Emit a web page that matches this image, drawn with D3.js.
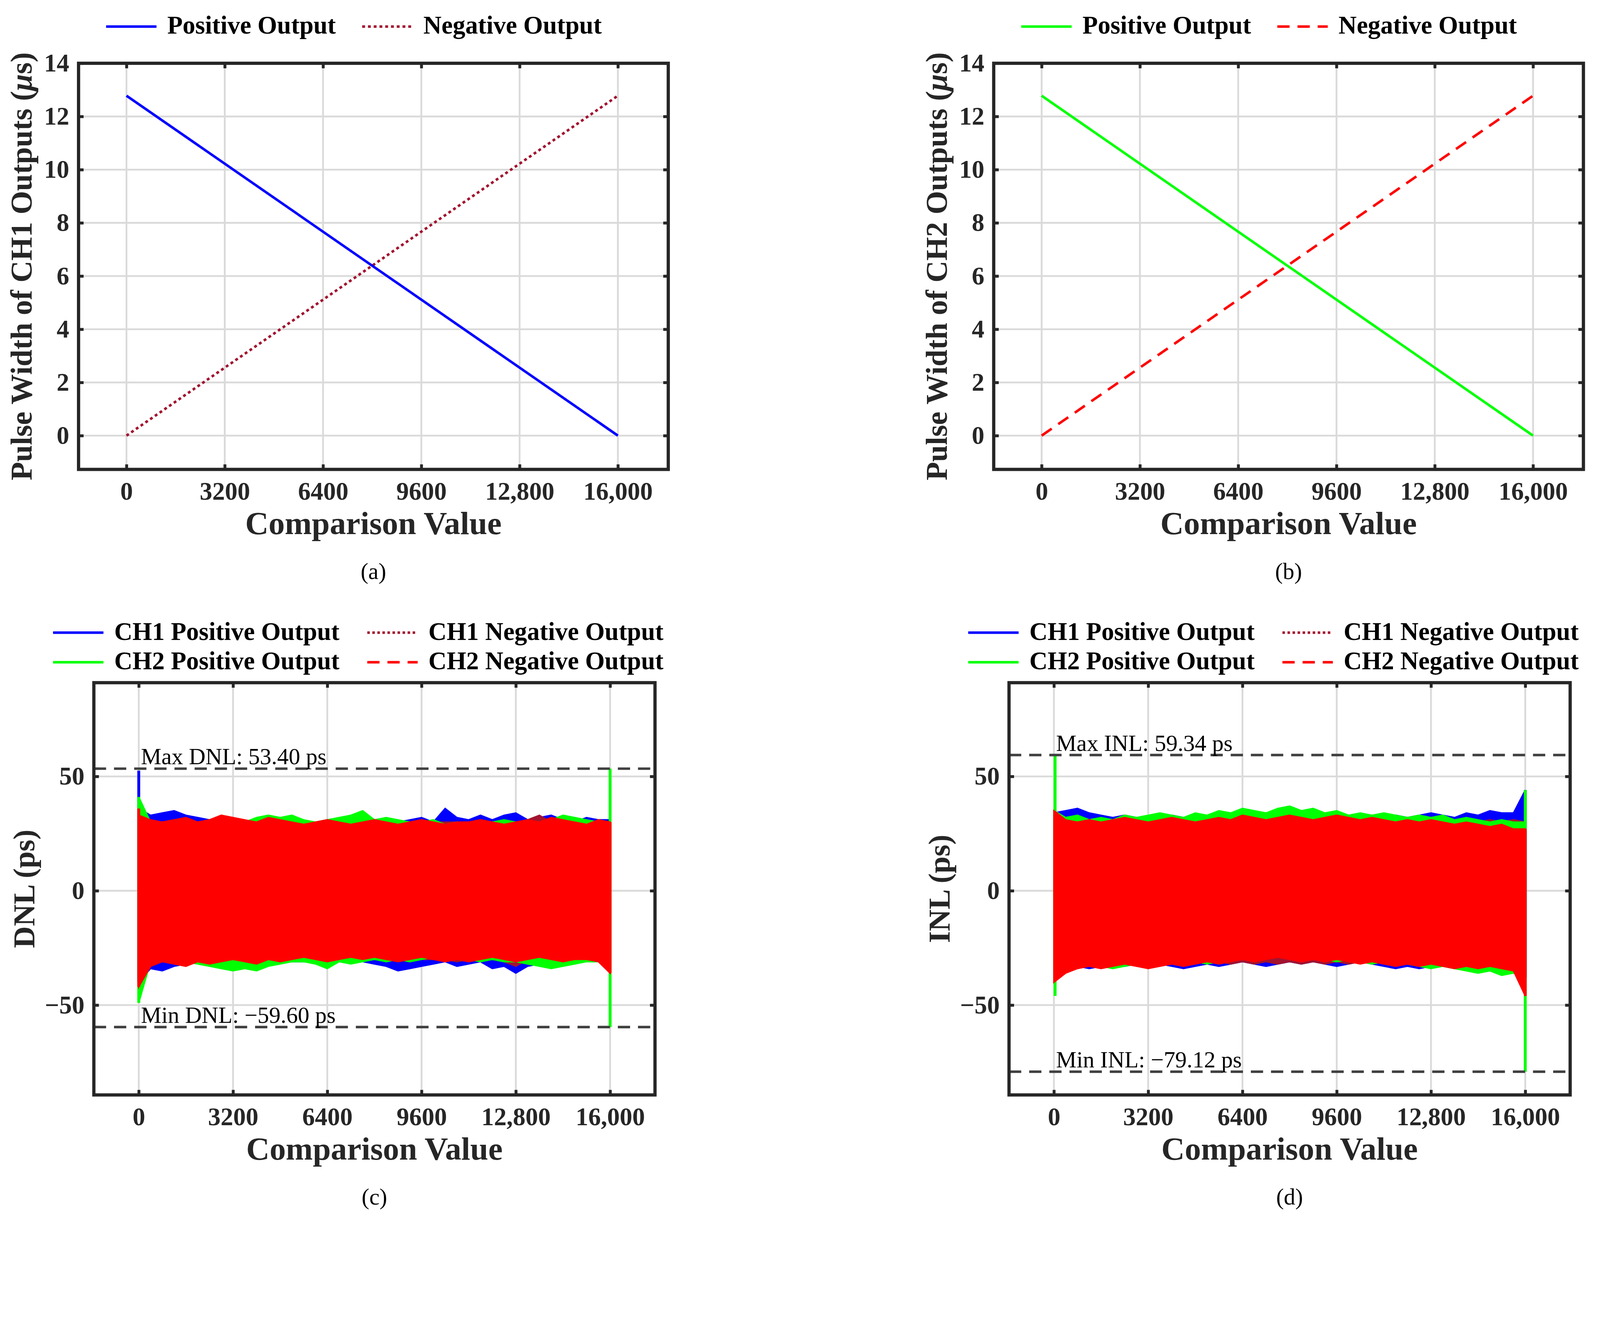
<!DOCTYPE html>
<html><head><meta charset="utf-8">
<script src="https://cdn.jsdelivr.net/npm/d3@7"></script>
<style>html,body{margin:0;padding:0;background:#fff;overflow:hidden}svg{display:block;width:100vw;height:100vh}</style>
</head><body>
<svg id="c" viewBox="0 0 4446 3399" preserveAspectRatio="xMinYMin meet"></svg>
<script>
// ---------- data ----------
const lineX = [0, 16000];
const ch1Pos = [12.78, 0];
const ch1Neg = [0, 12.78];
const ch2Pos = [12.78, 0];
const ch2Neg = [0, 12.78];
const xTicks = [0, 3200, 6400, 9600, 12800, 16000];
const xTickLabels = ["0", "3200", "6400", "9600", "12,800", "16,000"];
const yTicksTop = [0, 2, 4, 6, 8, 10, 12, 14];
const yTicksBottom = [-50, 0, 50];
const knots = [0,400,800,1200,1600,2000,2400,2800,3200,3600,4000,4400,4800,5200,5600,6000,6400,6800,7200,7600,8000,8400,8800,9200,9600,10000,10400,10800,11200,11600,12000,12400,12800,13200,13600,14000,14400,14800,15200,15600,16000];
// DNL envelopes (ps)
const dnlBlueHi = [36,33,34,35,33,32,31,30,31,30,30,30,31,30,30,29,30,31,30,30,30,31,30,31,32,30,36,32,31,33,31,33,34,31,32,33,31,30,32,31,31];
const dnlBlueLo = [-40,-34,-35,-33,-32,-31,-31,-31,-30,-31,-31,-30,-30,-31,-31,-31,-30,-31,-30,-31,-32,-33,-35,-34,-33,-32,-31,-33,-32,-31,-34,-33,-36,-33,-32,-31,-31,-32,-30,-31,-32];
const dnlDkHi = [31,30,30,31,30,30,31,30,30,30,30,31,30,30,30,30,31,30,30,30,31,30,30,30,31,30,30,30,30,31,30,30,30,31,33,30,30,30,30,30,30];
const dnlDkLo = [-34,-31,-30,-31,-30,-30,-31,-30,-30,-30,-31,-30,-30,-31,-30,-30,-30,-30,-31,-30,-30,-30,-30,-31,-30,-30,-30,-31,-30,-30,-30,-31,-33,-30,-30,-31,-30,-30,-30,-30,-33];
const dnlGreenHi = [41,30,30,30,29,30,29,30,31,30,32,33,32,33,31,30,31,32,33,35,31,32,31,30,30,31,29,30,29,30,30,31,30,30,30,31,33,32,31,30,30];
const dnlGreenLo = [-49,-31,-30,-30,-31,-32,-33,-34,-35,-34,-35,-33,-32,-31,-31,-32,-34,-31,-32,-31,-30,-31,-30,-31,-30,-29,-30,-29,-30,-31,-30,-31,-31,-32,-33,-34,-33,-32,-31,-31,-34];
const dnlRedHi = [33,31,30,31,32,30,31,33,32,31,30,32,31,30,29,30,31,30,29,30,31,30,29,30,31,30,29,30,30,31,30,29,30,31,30,32,31,30,29,31,30];
const dnlRedLo = [-42,-33,-31,-32,-33,-31,-32,-31,-30,-31,-32,-30,-31,-30,-29,-30,-31,-30,-29,-30,-29,-30,-31,-30,-29,-30,-31,-30,-31,-30,-29,-30,-31,-30,-29,-30,-31,-30,-30,-31,-36];
// INL envelopes (ps)
const inlBlueHi = [34,35,36,34,33,32,33,32,31,32,33,32,31,32,33,32,31,32,33,32,31,32,33,32,34,33,32,33,32,33,32,33,34,33,32,34,33,35,34,34,44];
const inlBlueLo = [-36,-34,-33,-34,-33,-32,-33,-32,-33,-32,-33,-34,-33,-32,-33,-32,-31,-32,-33,-32,-31,-32,-31,-32,-33,-32,-31,-32,-33,-34,-33,-34,-33,-32,-33,-34,-35,-33,-34,-33,-38];
const inlDkHi = [32,31,31,30,31,30,31,30,31,30,31,31,30,31,30,31,30,31,30,31,30,31,30,31,30,31,30,31,30,31,30,31,30,31,30,31,30,31,30,31,30];
const inlDkLo = [-34,-32,-31,-32,-31,-32,-31,-32,-31,-32,-31,-32,-31,-32,-31,-32,-31,-32,-31,-32,-31,-32,-31,-32,-31,-32,-31,-32,-31,-32,-31,-32,-31,-32,-31,-32,-31,-32,-31,-32,-40];
const inlGreenHi = [35,32,33,31,32,31,33,32,33,34,33,32,34,33,35,34,36,35,34,36,37,35,36,34,35,33,34,33,34,33,32,33,32,33,31,32,31,30,31,30,30];
const inlGreenLo = [-38,-34,-33,-32,-33,-34,-33,-32,-31,-32,-31,-30,-31,-32,-31,-30,-29,-30,-29,-28,-29,-30,-29,-30,-31,-30,-31,-32,-31,-30,-32,-33,-34,-33,-34,-35,-36,-35,-37,-36,-38];
const inlRedHi = [35,31,30,31,30,31,32,31,30,31,32,31,30,31,32,31,33,32,31,32,33,32,31,32,33,32,31,32,31,30,31,30,31,30,29,30,29,28,29,27,27];
const inlRedLo = [-40,-36,-34,-33,-34,-33,-32,-33,-34,-33,-32,-33,-32,-31,-32,-31,-30,-31,-30,-29,-30,-31,-30,-31,-30,-31,-32,-31,-32,-33,-32,-33,-32,-33,-34,-33,-34,-33,-34,-35,-46];
// edge spikes [x, lo, hi]
const dnlBlueSpikes = [[0, -40, 52.5]];
const dnlGreenSpikes = [[0, -49, 41], [16000, -59.6, 53.4]];
const dnlRedSpikes = [[0, -42, 36], [16000, -36, 30]];
const inlBlueSpikes = [[16000, -38, 44]];
const inlGreenSpikes = [[40, -46, 59.34], [16000, -79.12, 44]];
const inlRedSpikes = [[16000, -46, 27]];
const dnlMax = 53.40, dnlMin = -59.60, inlMax = 59.34, inlMin = -79.12;

// ---------- drawing ----------
const K = 2.835;
const svg = d3.select("#c");
const FONT = "'Liberation Serif','Times New Roman',serif";
const AX = "#262626";
const C = {blue:"#0000ff", dk:"#a2142f", green:"#00ff00", red:"#ff0000"};

function frame(g, x, y, yTicks) {
  const [x0,x1] = x.range(), [y0,y1] = y.range();
  g.append("g").selectAll("line").data(xTicks).join("line")
    .attr("x1", d=>x(d)).attr("x2", d=>x(d)).attr("y1", y1).attr("y2", y0)
    .attr("stroke", "#dadada").attr("stroke-width", 5);
  g.append("g").selectAll("line").data(yTicks).join("line")
    .attr("y1", d=>y(d)).attr("y2", d=>y(d)).attr("x1", x0).attr("x2", x1)
    .attr("stroke", "#dadada").attr("stroke-width", 5);
}
function axes(g, x, y, yTicks, yFmt, xTitle, yTitle, letter, ytitleOff) {
  const [x0,x1] = x.range(), [y0,y1] = y.range();
  const L = 14;
  const ax = g.append("g").attr("transform", `translate(0,${y0})`)
    .call(d3.axisBottom(x).tickValues(xTicks).tickFormat((d,i)=>xTickLabels[i]).tickSizeInner(-L).tickSizeOuter(0).tickPadding(34));
  const ax2 = g.append("g").attr("transform", `translate(0,${y1})`)
    .call(d3.axisTop(x).tickValues(xTicks).tickFormat("").tickSizeInner(-L).tickSizeOuter(0));
  const ay = g.append("g").attr("transform", `translate(${x0},0)`)
    .call(d3.axisLeft(y).tickValues(yTicks).tickFormat(yFmt).tickSizeInner(-L).tickSizeOuter(0).tickPadding(26));
  const ay2 = g.append("g").attr("transform", `translate(${x1},0)`)
    .call(d3.axisRight(y).tickValues(yTicks).tickFormat("").tickSizeInner(-L).tickSizeOuter(0));
  [ax,ax2,ay,ay2].forEach(a=>{a.select(".domain").remove();
    a.selectAll("line").attr("stroke", AX).attr("stroke-width", 8);
    a.selectAll("text").attr("font-family", FONT).attr("font-weight","bold").attr("font-size", 70).attr("fill", AX);});
  g.append("rect").attr("x", x0).attr("y", y1).attr("width", x1-x0).attr("height", y0-y1)
    .attr("fill","none").attr("stroke", AX).attr("stroke-width", 9);
  g.append("text").attr("x",(x0+x1)/2).attr("y", y0+180).attr("text-anchor","middle")
    .attr("font-family",FONT).attr("font-weight","bold").attr("font-size",90).attr("fill",AX).text(xTitle);
  g.append("text").attr("transform",`translate(${x0-ytitleOff},${(y0+y1)/2}) rotate(-90)`).attr("text-anchor","middle")
    .attr("font-family",FONT).attr("font-weight","bold").attr("font-size",84).attr("fill",AX).html(yTitle);
  g.append("text").attr("x",(x0+x1)/2).attr("y", y0+305).attr("text-anchor","middle")
    .attr("font-family",FONT).attr("font-size",64).attr("fill","#000").text(letter);
}
function legendItem(g, x, y, color, dash, label) {
  g.append("line").attr("x1", x).attr("x2", x+140).attr("y1", y).attr("y2", y)
    .attr("stroke", color).attr("stroke-width", 7).attr("stroke-dasharray", dash);
  g.append("text").attr("x", x+170).attr("y", y+20).attr("font-family",FONT).attr("font-weight","bold")
    .attr("font-size",70).attr("fill","#000").text(label);
}

function topPanel(dx, posColor, negColor, negDash, chName) {
  const x = d3.scaleLinear().domain([-1560,17640]).range([(77+dx)*K, (655+dx)*K]);
  const y = d3.scaleLinear().domain([-1.27,14]).range([460*K, 62*K]);
  const g = svg.append("g");
  frame(g, x, y, yTicksTop);
  const line = d3.line().x((d,i)=>x(lineX[i])).y(d=>y(d));
  const pos = chName==="CH1" ? ch1Pos : ch2Pos;
  const neg = chName==="CH1" ? ch1Neg : ch2Neg;
  g.append("path").attr("d", line(neg)).attr("fill","none").attr("stroke",negColor).attr("stroke-width",7).attr("stroke-dasharray",negDash);
  g.append("path").attr("d", line(pos)).attr("fill","none").attr("stroke",posColor).attr("stroke-width",7);
  axes(g, x, y, yTicksTop, d3.format("d"), "Comparison Value",
    `Pulse Width of ${chName} Outputs (<tspan font-style="italic">μ</tspan>s)`, chName==="CH1"?"(a)":"(b)", 130);
  legendItem(g, (104+dx)*K, 26*K, posColor, null, "Positive Output");
  legendItem(g, (355+dx)*K, 26*K, negColor, negDash, "Negative Output");
}

function bottomPanel(dx, S, kind, maxV, minV, letter) {
  const x = d3.scaleLinear().domain([-1524,17524]).range([(92+dx)*K, (642+dx)*K]);
  const y = d3.scaleLinear().domain([-89.3,91]).range([1073*K, 669*K]);
  const g = svg.append("g");
  frame(g, x, y, yTicksBottom);
  const clip = "clip"+kind;
  svg.append("clipPath").attr("id",clip).append("rect").attr("x",x.range()[0]).attr("y",y.range()[1])
    .attr("width",x.range()[1]-x.range()[0]).attr("height",y.range()[0]-y.range()[1]);
  const area = d3.area().x((d,i)=>x(knots[i])).y0(d=>y(d[0])).y1(d=>y(d[1]));
  const gd = g.append("g").attr("clip-path",`url(#${clip})`);
  S.forEach(s=>{
    const pts = s.lo.map((v,i)=>[v, s.hi[i]]);
    gd.append("path").attr("d", area(pts))
      .attr("fill", s.color).attr("stroke", s.color).attr("stroke-width", 4).attr("stroke-linejoin","miter");
    gd.selectAll(null).data(s.spikes).join("line")
      .attr("x1", d=>x(d[0])).attr("x2", d=>x(d[0])).attr("y1", d=>y(d[1])).attr("y2", d=>y(d[2]))
      .attr("stroke", s.color).attr("stroke-width", 8);
  });
  [maxV, minV].forEach(v=>{
    g.append("line").attr("x1", x.range()[0]).attr("x2", x.range()[1]).attr("y1", y(v)).attr("y2", y(v))
      .attr("stroke", "#404040").attr("stroke-width", 7).attr("stroke-dasharray", "34,22");
  });
  g.append("text").attr("x", x(0)+6).attr("y", y(maxV)-12).attr("font-family",FONT).attr("font-size",64).attr("fill","#000")
    .text(`Max ${kind}: ${maxV.toFixed(2)} ps`);
  g.append("text").attr("x", x(0)+6).attr("y", y(minV)-12).attr("font-family",FONT).attr("font-size",64).attr("fill","#000")
    .text(`Min ${kind}: \u2212${Math.abs(minV).toFixed(2)} ps`);
  axes(g, x, y, yTicksBottom, d=>d<0?"\u2212"+Math.abs(d):d, "Comparison Value", `${kind} (ps)`, letter, 165);
  legendItem(g, (52+dx)*K, 620*K, C.blue, null, "CH1 Positive Output");
  legendItem(g, (52+dx)*K, 649*K, C.green, null, "CH2 Positive Output");
  legendItem(g, (360+dx)*K, 620*K, C.dk, "7,7", "CH1 Negative Output");
  legendItem(g, (360+dx)*K, 649*K, C.red, "34,22", "CH2 Negative Output");
}

topPanel(0, C.blue, C.dk, "8,8", "CH1");
topPanel(897, C.green, C.red, "34,22", "CH2");
bottomPanel(0, [
  {color:C.blue, hi:dnlBlueHi, lo:dnlBlueLo, spikes:dnlBlueSpikes},
  {color:C.dk, hi:dnlDkHi, lo:dnlDkLo, spikes:[]},
  {color:C.green, hi:dnlGreenHi, lo:dnlGreenLo, spikes:dnlGreenSpikes},
  {color:C.red, hi:dnlRedHi, lo:dnlRedLo, spikes:dnlRedSpikes}], "DNL", dnlMax, dnlMin, "(c)");
bottomPanel(897, [
  {color:C.blue, hi:inlBlueHi, lo:inlBlueLo, spikes:inlBlueSpikes},
  {color:C.dk, hi:inlDkHi, lo:inlDkLo, spikes:[]},
  {color:C.green, hi:inlGreenHi, lo:inlGreenLo, spikes:inlGreenSpikes},
  {color:C.red, hi:inlRedHi, lo:inlRedLo, spikes:inlRedSpikes}], "INL", inlMax, inlMin, "(d)");
</script>
</body></html>
